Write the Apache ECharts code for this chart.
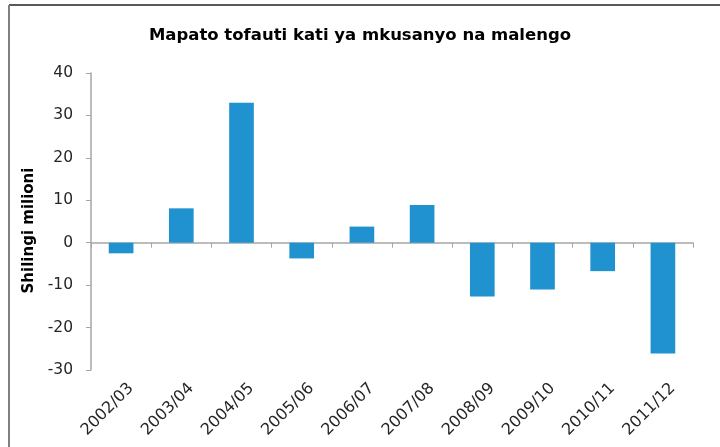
<!DOCTYPE html>
<html>
<head>
<meta charset="utf-8">
<script src="https://cdn.jsdelivr.net/npm/echarts@6/dist/echarts.min.js"></script>
<style>
  html, body { margin: 0; padding: 0; background: #fff; }
  #main { width: 720px; height: 447px; }
</style>
</head>
<body>
<div id="main"></div>
<script>
// data
var years = ['2002/03', '2003/04', '2004/05', '2005/06', '2006/07',
             '2007/08', '2008/09', '2009/10', '2010/11', '2011/12'];
var tofauti = [-2.5, 8.1, 33.0, -3.7, 3.8, 8.9, -12.7, -11.0, -6.7, -26.1];
var yMin = -30, yMax = 40, yStep = 10;

var myChart = echarts.init(document.getElementById('main'));
var fontName = '"DejaVu Sans", sans-serif';

var option = {
    backgroundColor: '#fff',
    animation: false,
    title: {
        text: 'Mapato tofauti kati ya mkusanyo na malengo',
        left: 'center',
        top: 22,
        textStyle: { fontFamily: fontName, fontSize: 16.5, fontWeight: 'bold', color: '#000' }
    },
    graphic: [
        // outer frame of the chart area (top + left edges visible)
        { type: 'line', shape: { x1: 9, y1: 5, x2: 720, y2: 5 }, style: { stroke: '#595959', lineWidth: 2 } },
        { type: 'line', shape: { x1: 9, y1: 5, x2: 9, y2: 447 }, style: { stroke: '#808080', lineWidth: 2 } }
    ],
    grid: { left: 91, right: 27, top: 73, bottom: 77 },
    xAxis: [
        {
            // labels along the bottom
            type: 'category',
            data: years,
            axisLine: { show: false, onZero: false },
            axisTick: { show: false },
            axisLabel: {
                rotate: 45,
                margin: 6,
                align: 'right',
                verticalAlign: 'top',
                padding: [6, 0, 0, 0],
                interval: 0,
                fontFamily: fontName,
                fontSize: 16,
                color: '#262626'
            }
        },
        {
            // zero line with tick marks
            type: 'category',
            data: years,
            position: 'bottom',
            axisLine: { show: true, onZero: true, lineStyle: { color: '#a6a6a6', width: 1.5 } },
            axisTick: { show: true, length: 5, inside: false, lineStyle: { color: '#a6a6a6' } },
            axisLabel: { show: false }
        }
    ],
    yAxis: {
        type: 'value',
        min: yMin,
        max: yMax,
        interval: yStep,
        name: 'Shilingi milioni',
        nameLocation: 'middle',
        nameGap: 54,
        nameRotate: 90,
        nameTextStyle: { fontFamily: fontName, fontSize: 15, fontWeight: 'bold', color: '#000', padding: [0, 18, 0, 0] },
        axisLine: { show: true, lineStyle: { color: '#a6a6a6', width: 1.5 } },
        axisTick: { show: true, length: 5, lineStyle: { color: '#a6a6a6' } },
        splitLine: { show: false },
        axisLabel: { margin: 18, fontFamily: fontName, fontSize: 15.5, color: '#262626' }
    },
    series: [
        {
            name: 'Tofauti',
            type: 'bar',
            xAxisIndex: 0,
            data: tofauti,
            barWidth: '41%',
            itemStyle: { color: '#2192d0' }
        }
    ]
};

myChart.setOption(option);
</script>
</body>
</html>
